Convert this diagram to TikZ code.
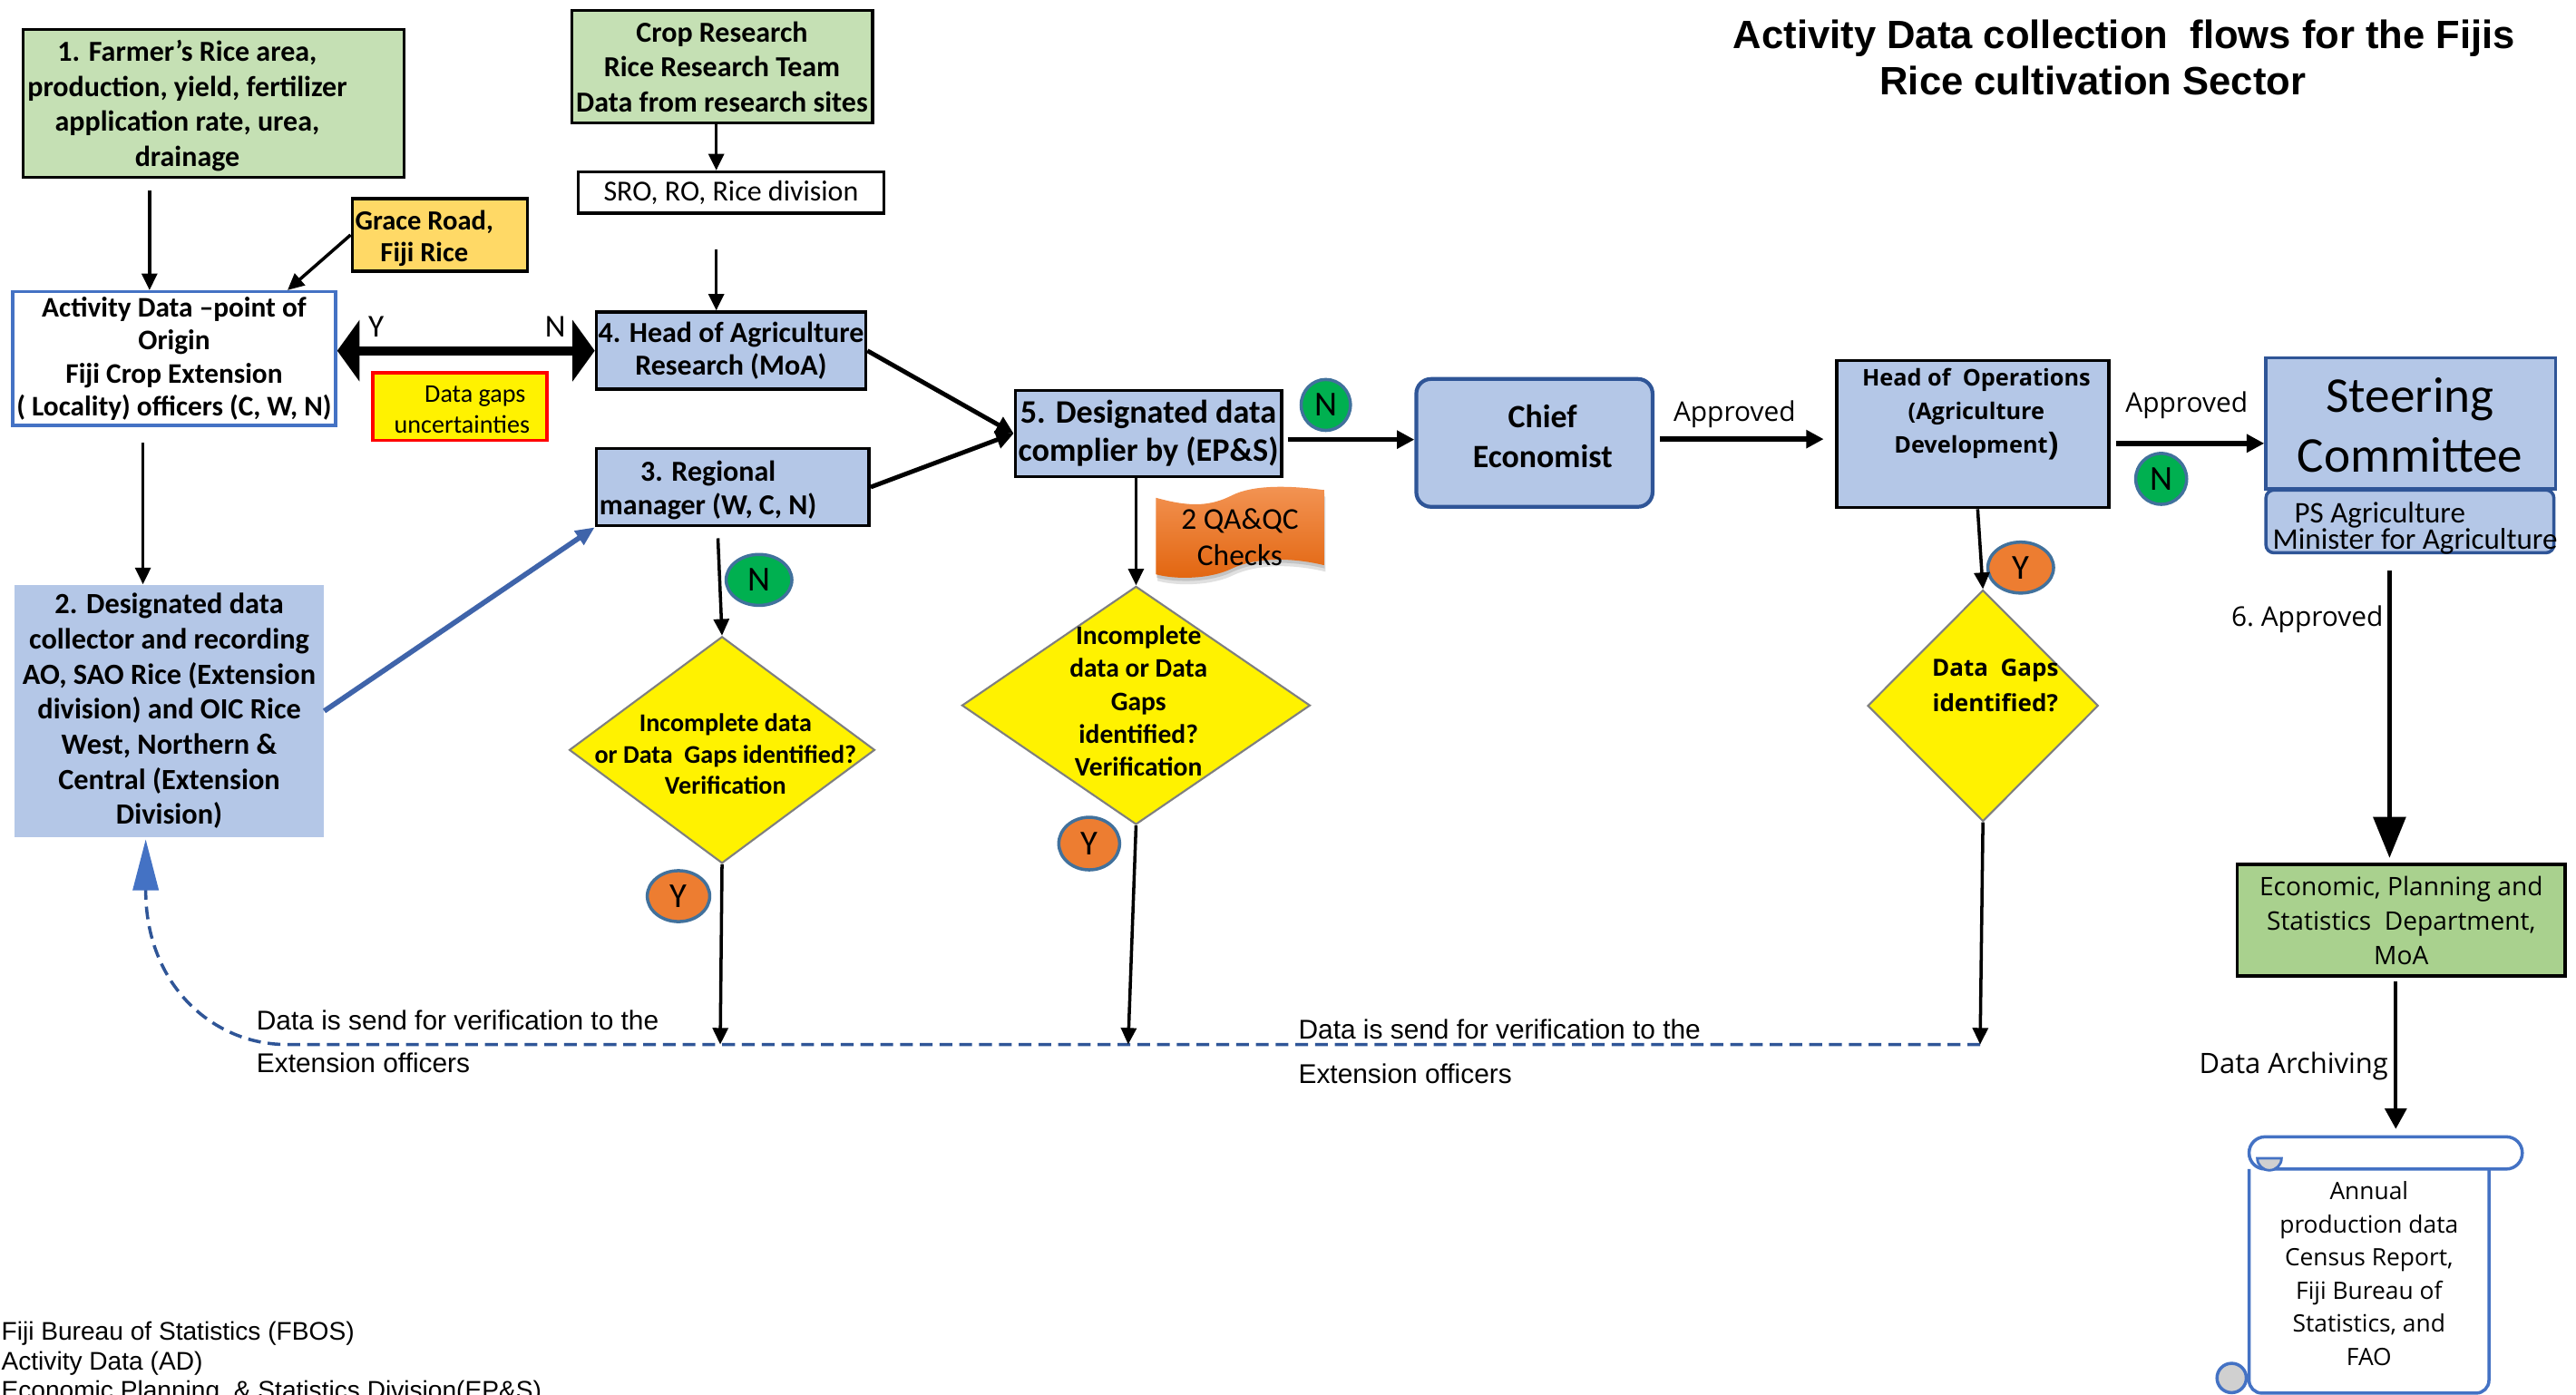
\documentclass[tikz,border=0pt]{standalone}
\usepackage{fontspec}
\setmainfont{Carlito}
\newfontfamily\arialfont{Liberation Sans}
\newfontfamily\segoefont{Open Sans}
\usetikzlibrary{arrows.meta,calc,shapes.geometric}

\definecolor{boxgreen}{HTML}{C5E0B4}
\definecolor{econgreen}{HTML}{A9D18E}
\definecolor{boxblue}{HTML}{B4C7E7}
\definecolor{gracegold}{HTML}{FFD966}
\definecolor{accent}{HTML}{4472C4}
\definecolor{darkblue}{HTML}{2F5597}
\definecolor{ngreen}{HTML}{00B050}
\definecolor{yorange}{HTML}{ED7D31}
\definecolor{circedge}{HTML}{41719C}
\definecolor{diaedge}{HTML}{7F7F7F}
\definecolor{qatop}{HTML}{F39454}
\definecolor{qabot}{HTML}{E2650F}
\definecolor{bluearrow}{HTML}{3F64AA}
\definecolor{curlgray}{HTML}{D0D0D0}

\newcommand\fsz[2]{\fontsize{#1}{#2}\selectfont}

\tikzset{
  sz/.style 2 args={minimum width=#1*0.018112cm, minimum height=#2*0.018112cm},
  txt/.style={inner sep=0pt, align=center, text=black},
  bx/.style={draw=black, line width=1pt, inner sep=0pt, align=center},
  greenbox/.style={bx, fill=boxgreen},
  bluebox/.style={bx, fill=boxblue},
  decision/.style={diamond, draw=diaedge, line width=0.6pt, fill=yellow, inner sep=0pt},
  yn/.style={ellipse, draw=circedge, line width=1pt, inner sep=0pt, font=\fsz{11}{11}},
  ncirc/.style={yn, fill=ngreen},
  ycirc/.style={yn, fill=yorange},
  arr/.style={line width=1pt, -{Triangle[length=5.2pt,width=4.8pt]}},
  midarr/.style={line width=1.4pt, -{Triangle[length=5.5pt,width=5.5pt]}},
  widearr/.style={line width=1.6pt, -{Triangle[length=5.5pt,width=5.5pt]}},
  dblarr/.style={line width=2.8pt, {Triangle[length=7pt,width=19pt]}-{Triangle[length=7pt,width=19pt]}},
  bluearr/.style={draw=bluearrow, line width=1.6pt, -{Triangle[length=6pt,width=5pt]}},
  bigarr/.style={line width=1.6pt, -{Triangle[length=12.9pt,width=10pt]}},
  archarr/.style={line width=1.2pt, -{Triangle[length=6.4pt,width=6.7pt]}},
  dashret/.style={draw=darkblue, line width=1pt, dash pattern=on 4pt off 2.2pt,
    -{Triangle[length=16pt,width=8pt,color=accent]}},
  boxfont/.style={font=\bfseries\fsz{9.1}{11}},
  sego/.style={font=\segoefont\fsz{8.5}{10}},
  arial/.style={font=\arialfont\fsz{8.5}{10}},
}

\begin{document}
\begin{tikzpicture}[x=0.018112cm, y=-0.018112cm]
\useasboundingbox (0,0) rectangle (1568,849);
\clip (0,0) rectangle (1568,849);
\fill[white] (0,0) rectangle (1568,849);

% ---------- title ----------
\node[txt, font=\arialfont\bfseries\fsz{12.4}{14.6}] (title) at (1293,35.2)
  {Activity Data collection\ \ flows for the Fijis\\Rice cultivation Sector\hspace*{0.69cm}};

% ---------- left column ----------
\node[greenbox, sz={231.7}{90.1}] (farmer) at (130,63) {};
\node[txt, boxfont] (farmertxt) at (114,64.4)
  {1. Farmer’s Rice area,\\production, yield, fertilizer\\application rate, urea,\\drainage};

\node[greenbox, sz={183}{68.5}, boxfont] (crop) at (439.5,40.7)
  {Crop Research\\Rice Research Team\\Data from research sites};

\node[bx, fill=white, sz={186}{25}, font=\fsz{9.1}{11}] (sro) at (445,117.2) {SRO, RO, Rice division};

\node[bx, fill=gracegold, sz={106.6}{44}] (grace) at (267.7,143) {};
\node[txt, font=\bfseries\fsz{8.7}{10}] (gracetxt) at (258.3,145) {Grace Road,\\Fiji Rice};

\node[bx, draw=accent, fill=white, sz={196.6}{81.4}, font=\bfseries\fsz{8.9}{10.4}] (activity) at (106,218.3)
  {Activity Data –point of\\Origin\\Fiji Crop Extension\\( Locality) officers (C, W, N)};

\node[bx, draw=red, fill=yellow, sz={106}{41}] (gaps) at (280,247.5) {};
\node[txt, font=\fsz{8}{9.5}] (gapstxt) at (281.2,249.4) {\hspace*{0.29cm}Data gaps\\uncertainties};

\node[bluebox, sz={164}{47}, font=\bfseries\fsz{9.1}{10.5}] (headag) at (445,213.5)
  {4. Head of Agriculture\\Research (MoA)};

\node[bluebox, sz={166}{47}] (regional) at (446,296.5) {};
\node[txt, font=\bfseries\fsz{9.1}{10.5}] (regionaltxt) at (431,298.2) {3. Regional\\manager (W, C, N)};

\node[fill=boxblue, inner sep=0pt, align=center, sz={188}{153.5}, font=\bfseries\fsz{9.2}{11}] (des2) at (103,432.8)
  {2. Designated data\\collector and recording\\AO, SAO Rice (Extension\\division) and OIC Rice\\West, Northern \&\\Central (Extension\\Division)};

% ---------- middle ----------
\node[bluebox, sz={162}{52.3}, font=\bfseries\fsz{10.3}{12}] (des5) at (699,263.9)
  {5. Designated data\\complier by (EP\&S)};

\node[bx, draw=darkblue, line width=1.2pt, fill=boxblue, rounded corners=4.6pt, sz={143.8}{77.8}] (chief) at (934,269.6) {};
\node[txt, font=\bfseries\fsz{10.2}{12.5}] (chieftxt) at (939,265.6) {Chief\\Economist};

\node[bluebox, sz={165.5}{89.5}] (headops) at (1200.8,264.2) {};
\node[txt, font=\segoefont\bfseries\fsz{7.2}{10.5}] (headopstxt) at (1203,252)
  {Head of\ \ Operations\\(Agriculture\\Development\raisebox{-0.6pt}{\fsz{10}{10})}};

\node[bx, draw=darkblue, fill=boxblue, sz={176.4}{79.8}] (steer) at (1467.4,257.6) {};
\node[txt, font=\fsz{15.7}{19}] (steertxt) at (1467,258.8) {Steering\\Committee};
\node[bx, draw=darkblue, fill=boxblue, rounded corners=2.5pt, sz={175.3}{38.2}] (stsub) at (1466.9,317.4) {};
\node[inner sep=0pt, align=left, anchor=west, font=\fsz{9.4}{8.3}] (stsubtxt) at (1383,321.5)
  {\hspace*{0.24cm}PS Agriculture\\Minister for Agriculture};

\node[bx, fill=econgreen, sz={199.8}{67.9}, font=\segoefont\fsz{8}{10.8}] (econ) at (1461.6,560.2)
  {Economic, Planning and\\Statistics\ \ Department,\\MoA};

% ---------- decisions ----------
\node[decision, sz={186}{138}] (d1) at (439.5,456.5) {};
\node[txt, font=\bfseries\fsz{8}{9.8}] (d1txt) at (441.6,459) {Incomplete data\\or Data\ \ Gaps identified?\\Verification};
\node[decision, sz={212}{145}] (d2) at (691.5,429.4) {};
\node[txt, font=\bfseries\fsz{8.4}{10.3}] (d2txt) at (693,426.7) {Incomplete\\data or Data\\Gaps\\identified?\\Verification};
\node[decision, sz={140.4}{140.8}] (d3) at (1207,429.6) {};
\node[txt, font=\segoefont\bfseries\fsz{7.4}{11.3}] (d3txt) at (1214.5,417.2) {Data\ \ Gaps\\identified?};

% ---------- QA & QC wave ----------
\fill[black, opacity=0.12] (704.6,307) .. controls (726,313) and (738,312) .. (751,305.5) .. controls (764,299) and (786,299.5) .. (806.8,302.3)
  -- (806.8,348) .. controls (786,343) and (765,343.5) .. (751,350) .. controls (738,356.5) and (717,357) .. (704.6,353.6) -- cycle;
\fill[black, opacity=0.12] (704,305) .. controls (725.5,311) and (737.5,310) .. (750.5,303.5) .. controls (763.5,297) and (785.5,297.5) .. (806.3,300.3)
  -- (806.3,346) .. controls (785.5,341) and (764.5,341.5) .. (750.5,348) .. controls (737.5,354.5) and (716.5,355) .. (704,351.6) -- cycle;
\shade[top color=qatop, bottom color=qabot] (703.6,303) .. controls (725,309) and (737,308) .. (750,301.5) .. controls (763,295) and (785,295.5) .. (805.8,298.3)
  -- (805.8,344) .. controls (785,339) and (764,339.5) .. (750,346) .. controls (737,352.5) and (716,353) .. (703.6,349.6) -- cycle;
\node[txt, font=\fsz{9.5}{11.4}] (qatxt) at (754.7,327) {2 QA\&QC\\Checks};

% ---------- Y / N markers ----------
\node[ncirc, sz={40}{31}] (n1) at (462,353) {N};
\node[ncirc, sz={30}{31}] (n2) at (807,246.5) {N};
\node[ncirc, sz={31}{31}] (n3) at (1315.5,291.5) {N};
\node[ycirc, sz={38}{31}] (y1) at (413,545.5) {Y};
\node[ycirc, sz={37}{32}] (y2) at (663,513.5) {Y};
\node[ycirc, sz={40}{31}] (y3) at (1230,345.5) {Y};

% ---------- archive scroll ----------
\filldraw[fill=white, draw=accent, line width=1pt, rounded corners=4pt]
  (1369,711.6) -- (1369,848) -- (1515,848) -- (1515,711.6);
\filldraw[fill=white, draw=accent, line width=1pt, rounded corners=5pt]
  (1369,692) rectangle (1535.3,711.6);
\filldraw[fill=curlgray, draw=accent, line width=0.8pt]
  (1374,705) arc[start angle=180, end angle=360, radius=3.8pt] -- cycle;
\filldraw[fill=curlgray, draw=accent, line width=1pt] (1358.4,838.8) circle[radius=4.6pt];
\coordinate (scrolltop) at (1458.3,687.2);
\node[txt, font=\segoefont\fsz{7.5}{10.4}] (scrolltxt) at (1442,775.3)
  {Annual\\production data\\Census Report,\\Fiji Bureau of\\Statistics, and\\FAO};

% ---------- return path to the extension officers ----------
\coordinate (j1) at (438.4,635.8);
\coordinate (j2) at (686.7,635.8);
\coordinate (j3) at (1205.3,635.8);
\coordinate (bend) at (174.3,635.8);
\draw[dashret] (j3) -- (bend) .. controls (130,635.8) and (88.7,600) .. (88.7,541.9)
  -- ($(des2.south)+(-14.3,1)$);

% ---------- connectors ----------
\draw[arr] ($(farmer.south)+(-39,7)$) coordinate (fa) -- (fa |- activity.north);
\draw[arr] (grace.west) -- ($(activity.north)+(69,0)$);
\draw[arr] ($(crop.south)+(-3.5,0)$) coordinate (cr) -- (cr |- sro.north);
\draw[arr] ($(sro.south)+(-9,21)$) coordinate (sr) -- (sr |- headag.north);
\draw[dblarr] (activity.east |- headag.west) -- (headag.west);
\draw[arr] ($(activity.south)+(-19,9.4)$) coordinate (ac) -- (ac |- des2.north);
\draw[bluearr] (des2.east) -- (regional.south west);
\draw[midarr] (headag.east) -- (des5.west);
\draw[midarr] (regional.east) -- (des5.west);
\draw[arr] ($(regional.south)+(-9,6.7)$) -- (d1.north);
\draw[arr] (des5.south -| d2.north) -- (d2.north);
\draw[widearr] ($(des5.east)+(2.8,3.7)$) coordinate (dc) -- (dc -| chief.west);
\draw[widearr] ($(chief.east)+(3.5,-2.3)$) coordinate (ch) -- ($(ch -| headops.west)+(-7,0)$);
\draw[widearr] ($(headops.east)+(3.3,5.7)$) coordinate (ho) -- (ho -| steer.west);
\draw[arr] ($(headops.south)+(3,0)$) -- (d3.north);
\draw[bigarr] ($(stsub.south)+(-12.4,9.8)$) coordinate (st) -- ($(st |- econ.north)+(0,-3)$);
\draw[archarr] ($(econ.south)+(-3.3,2.5)$) coordinate (ec) -- (ec |- scrolltop);
\draw[arr] (d1.south) -- (j1);
\draw[arr] (d2.south) -- (j2);
\draw[arr] (d3.south) -- (j3);

% ---------- labels ----------
\node[txt, font=\fsz{10}{10}] (ylab) at (229,199) {Y};
\node[txt, font=\fsz{10}{10}] (nlab) at (338,199) {N};
\node[txt, sego] (appr1) at (1055.8,252) {Approved};
\node[txt, sego] (appr2) at (1331,246.5) {Approved};
\node[txt, sego, anchor=east] (appr6) at (1451,376.8) {6.\ Approved};
\node[txt, font=\segoefont\fsz{8.8}{10}, anchor=east] (arch) at (1454,649) {Data\ Archiving};
\node[txt, arial, anchor=west] (ver1a) at (155.8,621) {Data is send for verification to the};
\node[txt, arial, anchor=west] (ver1b) at (155.8,647) {Extension officers};
\node[txt, arial, anchor=west] (ver2a) at (790,626.7) {Data is send for verification to the};
\node[txt, arial, anchor=west] (ver2b) at (790,653.4) {Extension officers};

% ---------- abbreviations ----------
\node[txt, font=\arialfont\fsz{8}{9.5}, anchor=west] (ab1) at (0.5,811.5) {Fiji Bureau of Statistics (FBOS)};
\node[txt, font=\arialfont\fsz{8}{9.5}, anchor=west] (ab2) at (0.5,830.2) {Activity Data (AD)};
\node[txt, font=\arialfont\fsz{8}{9.5}, anchor=west] (ab3) at (0.5,847.5) {Economic Planning\ \ \& Statistics Division(EP\&S)};
\end{tikzpicture}
\end{document}
